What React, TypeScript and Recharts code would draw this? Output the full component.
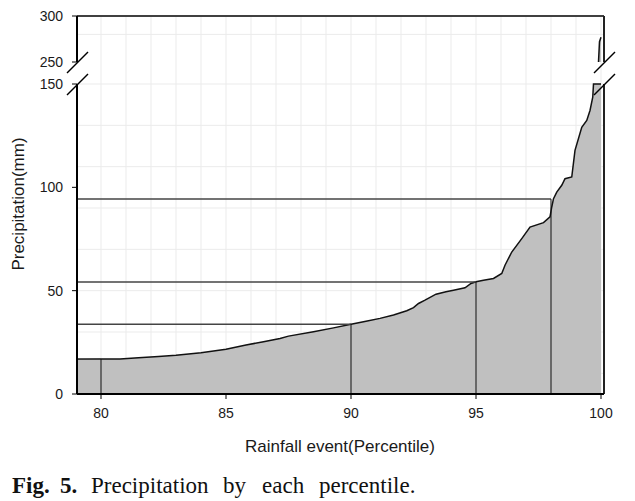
import { ComposedChart, Area, XAxis, YAxis, CartesianGrid, ReferenceLine } from 'recharts'

// percentile (x) and precipitation in mm (y)
const PCT = [
  79.04, 80.0, 80.76, 81.5, 82.3, 83.0, 84.0, 85.0, 85.8, 86.5, 87.16, 87.5, 88.5, 89.3,
  90.0, 90.6, 91.16, 91.7, 92.23, 92.5, 92.7, 92.96, 93.4, 93.8, 94.1, 94.56, 94.8, 95.0,
  95.3, 95.7, 96.03, 96.16, 96.43, 96.83, 97.16, 97.7, 97.96, 98.03, 98.1, 98.23, 98.43,
  98.56, 98.83, 98.96, 99.23, 99.43, 99.56, 99.67, 99.7, 99.8, 99.86, 99.9, 99.94, 100.0,
]
const PRECIP = [
  16.8, 16.9, 16.9, 17.6, 18.2, 18.8, 20.0, 21.7, 23.7, 25.3, 26.9, 28.0, 30.1, 32.0,
  33.8, 35.2, 36.6, 38.2, 40.3, 41.8, 43.8, 45.4, 48.3, 49.5, 50.2, 51.4, 53.5, 54.3,
  55.0, 55.9, 58.3, 62.3, 68.7, 75.2, 80.8, 82.9, 85.7, 90.5, 94.5, 97.7, 101,
  104.2, 105, 117.9, 129, 132.4, 137.2, 143.6, 150, 175, 215, 250, 272, 277,
]

// marked percentiles and their precipitation
const MARK_PCT = [80, 90, 95, 98]
const MARK_VAL = [16.9, 33.8, 54.2, 94.3]

const X_TICKS = [80, 85, 90, 95, 100]
const LOW_TICKS = [0, 50, 100, 150]
const HIGH_TICKS = [250, 300]
const GRID_X = [80, 81, 82, 83, 84, 85, 86, 87, 88, 89, 90, 91, 92, 93, 94, 95, 96, 97, 98, 99, 100]
const GRID_LOW = [10, 20, 30, 40, 50, 60, 70, 80, 90, 100, 110, 120, 130, 140, 150]
const GRID_HIGH = [250, 280]

const X0 = 79.04
const X1 = 100.12
const LOW_MAX = 150
const LOW_TOP = 160.65 // break gap above 150
const HIGH_MIN = 250
const HIGH_MAX = 300

const data = PCT.map((p, i) => ({
  p,
  lo: Math.min(PRECIP[i], LOW_MAX),
  hi: PRECIP[i] >= HIGH_MIN ? PRECIP[i] : null,
}))

const tickStyle = { fontSize: 14, fill: '#1a1a1a' }
const GRID = '#ebebeb'

export default function App() {
  return (
    <div style={{ position: 'absolute', left: 0, top: 0, width: 635, height: 501, background: '#fff', fontFamily: '"Liberation Sans", Arial, sans-serif' }}>
      {/* lower panel 0-150 */}
      <div style={{ position: 'absolute', left: 0, top: 0 }}>
        <ComposedChart width={635} height={501} data={data} margin={{ top: 62, right: 31, bottom: 47, left: 0 }}>
          <CartesianGrid stroke={GRID} verticalValues={GRID_X} horizontalValues={GRID_LOW} />
          <XAxis
            type="number" dataKey="p" domain={[X0, X1]} ticks={X_TICKS} allowDataOverflow
            height={60} tickSize={5} tickMargin={9} tick={tickStyle}
            axisLine={{ stroke: '#000', strokeWidth: 2 }} tickLine={{ stroke: '#000' }}
          />
          <YAxis
            type="number" domain={[0, LOW_TOP]} ticks={LOW_TICKS} allowDataOverflow
            width={77} tickSize={5} tickMargin={9} tick={tickStyle}
            axisLine={false} tickLine={{ stroke: '#000' }}
          />
          <Area type="linear" dataKey="lo" stroke="#111" strokeWidth={1.5} fill="#c0c0c0" fillOpacity={1} dot={false} activeDot={false} isAnimationActive={false} />
          {MARK_PCT.map((p, i) => (
            <ReferenceLine key={'h' + p} segment={[{ x: X0, y: MARK_VAL[i] }, { x: p, y: MARK_VAL[i] }]} stroke="#444" strokeWidth={1.5} ifOverflow="visible" />
          ))}
          {MARK_PCT.map((p, i) => (
            <ReferenceLine key={'v' + p} segment={[{ x: p, y: 0 }, { x: p, y: MARK_VAL[i] }]} stroke="#111" strokeWidth={1} ifOverflow="visible" />
          ))}
          <ReferenceLine segment={[{ x: X0, y: 0 }, { x: X0, y: LOW_MAX }]} stroke="#000" strokeWidth={2} ifOverflow="visible" />
          <ReferenceLine segment={[{ x: X1, y: 0 }, { x: X1, y: LOW_MAX }]} stroke="#222" strokeWidth={2} ifOverflow="visible" />
        </ComposedChart>
      </div>

      {/* upper panel 250-300 */}
      <div style={{ position: 'absolute', left: 0, top: 0 }}>
        <ComposedChart width={635} height={70} data={data} margin={{ top: 16, right: 31, bottom: 8, left: 0 }}>
          <CartesianGrid stroke={GRID} verticalValues={GRID_X} horizontalValues={GRID_HIGH} />
          <XAxis type="number" dataKey="p" domain={[X0, X1]} allowDataOverflow hide />
          <YAxis
            type="number" domain={[HIGH_MIN, HIGH_MAX]} ticks={HIGH_TICKS} allowDataOverflow
            width={77} tickSize={5} tickMargin={9} tick={tickStyle}
            axisLine={{ stroke: '#000', strokeWidth: 2 }} tickLine={{ stroke: '#000' }}
          />
          <Area type="linear" dataKey="hi" stroke="#111" strokeWidth={1.5} fill="#c0c0c0" fillOpacity={1} dot={false} activeDot={false} isAnimationActive={false} />
          <ReferenceLine y={HIGH_MAX} stroke="#404040" strokeWidth={2} ifOverflow="visible" />
          <ReferenceLine x={X1} stroke="#222" strokeWidth={2} ifOverflow="visible" />
        </ComposedChart>
      </div>

      {/* break marks, titles and caption */}
      <svg width={635} height={501} style={{ position: 'absolute', left: 0, top: 0, pointerEvents: 'none' }}>
        <g stroke="#000" strokeWidth={1.5}>
          <line x1={67} y1={73} x2={88} y2={52} />
          <line x1={67} y1={95} x2={88} y2={74} />
          <line x1={594} y1={73} x2={615} y2={52} />
          <line x1={594} y1={95} x2={615} y2={74} />
        </g>
        <text transform="translate(24,204) rotate(-90)" textAnchor="middle" fontSize={17} fill="#1a1a1a">Precipitation(mm)</text>
        <text x={340} y={452} textAnchor="middle" fontSize={17} fill="#1a1a1a">Rainfall event(Percentile)</text>
        <g fontFamily={'"Liberation Serif", "Times New Roman", serif'} fontSize={23} fill="#111">
          <text x={12} y={493} fontWeight="bold">Fig.</text>
          <text x={60} y={493} fontWeight="bold">5.</text>
          <text x={91} y={493}>Precipitation</text>
          <text x={223} y={493}>by</text>
          <text x={262} y={493}>each</text>
          <text x={319} y={493}>percentile.</text>
        </g>
      </svg>
    </div>
  )
}
